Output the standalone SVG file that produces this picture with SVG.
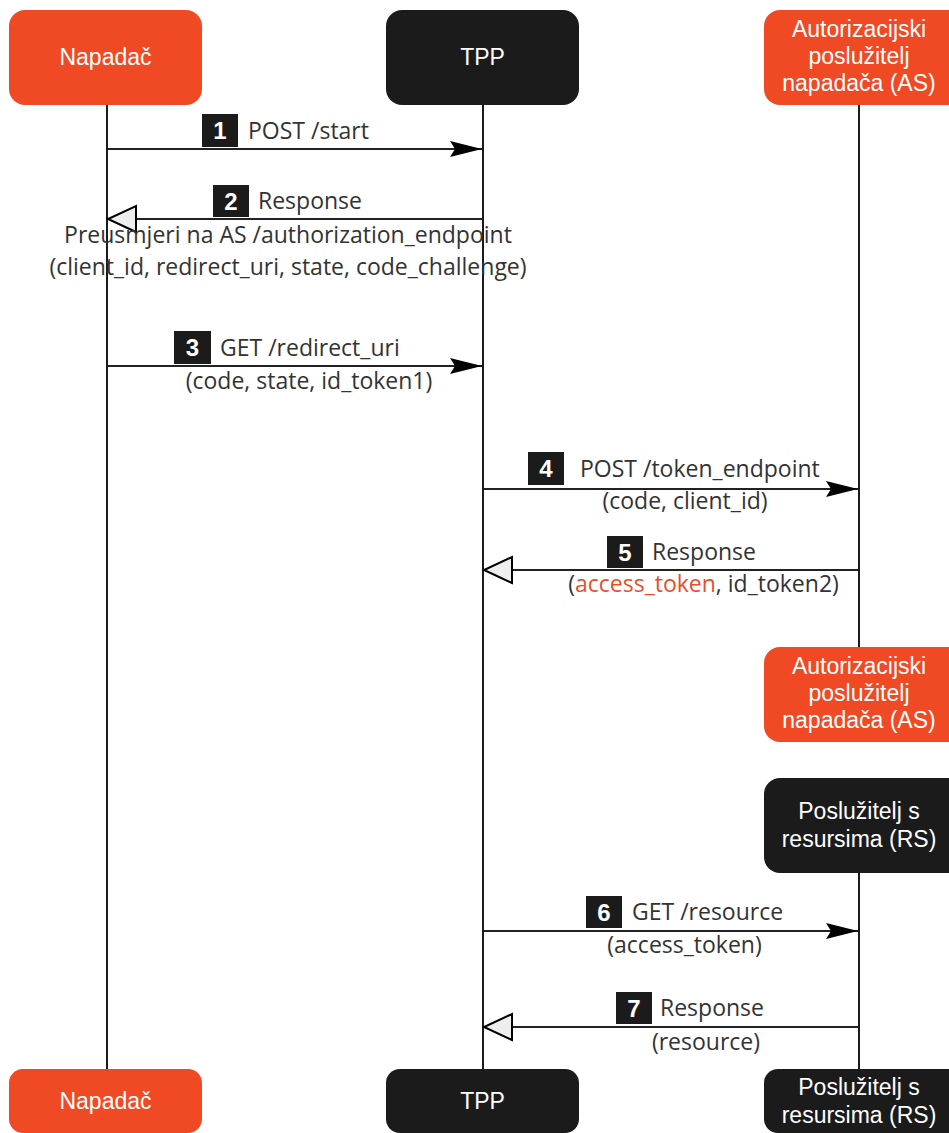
<svg xmlns="http://www.w3.org/2000/svg" width="949" height="1133" viewBox="0 0 949 1133">
<style>
.red{fill:#EF4A24}
.blk{fill:#1b1b1b}
.bt{font-family:"Liberation Sans",Arial,sans-serif;font-size:23px;fill:#ffffff;text-anchor:middle}
.life{stroke:#1b1b1b;stroke-width:2;fill:none}
.msg{stroke:#222;stroke-width:2;fill:none}
.lbl{font-family:"Open Sans","DejaVu Sans",sans-serif;font-size:23px;fill:#333333}
.sub{font-family:"Open Sans","DejaVu Sans",sans-serif;font-size:23px;fill:#333333;text-anchor:middle}
.num{fill:#1b1b1b}
.nt{font-family:"Liberation Sans",Arial,sans-serif;font-size:24px;font-weight:bold;fill:#ffffff;text-anchor:middle}
.hl{fill:#E84E2C}
</style>
<defs>
<marker id="filled" markerWidth="34" markerHeight="18" refX="32" refY="9" orient="auto" markerUnits="userSpaceOnUse">
<path d="M0,1 L32,9 L0,17 L5,9 Z" fill="#000"/>
</marker>
<marker id="open" markerWidth="32" markerHeight="30" refX="29" refY="15" orient="auto" markerUnits="userSpaceOnUse">
<path d="M1,2 L29,15 L1,28 Z" fill="#eeeeee" stroke="#000" stroke-width="2"/>
</marker>
</defs>

<g id="lifelines">
<line class="life" x1="107" y1="105" x2="107" y2="1069"/>
<line class="life" x1="483" y1="105" x2="483" y2="1069"/>
<line class="life" x1="859" y1="105" x2="859" y2="647"/>
<line class="life" x1="859" y1="873" x2="859" y2="1069"/>
</g>

<g id="node-napadac-top">
<rect class="red" x="9" y="10" width="193" height="95" rx="16"/>
<text class="bt" x="105.5" y="65">Napadač</text>
</g>
<g id="node-tpp-top">
<rect class="blk" x="386" y="10" width="193" height="95" rx="16"/>
<text class="bt" x="482.5" y="65">TPP</text>
</g>
<g id="node-as-top">
<rect class="red" x="764" y="10" width="200" height="95" rx="16"/>
<text class="bt" x="859" y="37">Autorizacijski</text>
<text class="bt" x="859" y="64">poslužitelj</text>
<text class="bt" x="859" y="91">napadača (AS)</text>
</g>
<g id="node-as-mid">
<rect class="red" x="764" y="647" width="200" height="95" rx="16"/>
<text class="bt" x="859" y="674">Autorizacijski</text>
<text class="bt" x="859" y="701">poslužitelj</text>
<text class="bt" x="859" y="728">napadača (AS)</text>
</g>
<g id="node-rs-mid">
<rect class="blk" x="764" y="778" width="200" height="95" rx="16"/>
<text class="bt" x="859" y="819">Poslužitelj s</text>
<text class="bt" x="859" y="847">resursima (RS)</text>
</g>
<g id="node-napadac-bottom">
<rect class="red" x="9" y="1069" width="193" height="64" rx="14"/>
<text class="bt" x="105.5" y="1109">Napadač</text>
</g>
<g id="node-tpp-bottom">
<rect class="blk" x="386" y="1069" width="193" height="64" rx="14"/>
<text class="bt" x="482.5" y="1109">TPP</text>
</g>
<g id="node-rs-bottom">
<rect class="blk" x="764" y="1069" width="200" height="64" rx="14"/>
<text class="bt" x="859" y="1095">Poslužitelj s</text>
<text class="bt" x="859" y="1123">resursima (RS)</text>
</g>

<g id="connectors">
<line class="msg" x1="108" y1="149" x2="482" y2="149" marker-end="url(#filled)"/>
<line class="msg" x1="482" y1="219" x2="108" y2="219" marker-end="url(#open)"/>
<line class="msg" x1="108" y1="366" x2="482" y2="366" marker-end="url(#filled)"/>
<line class="msg" x1="484" y1="489" x2="858" y2="489" marker-end="url(#filled)"/>
<line class="msg" x1="858" y1="570" x2="484" y2="570" marker-end="url(#open)"/>
<line class="msg" x1="484" y1="931" x2="858" y2="931" marker-end="url(#filled)"/>
<line class="msg" x1="858" y1="1027" x2="484" y2="1027" marker-end="url(#open)"/>
</g>

<g id="label-1">
<rect class="num" x="202" y="114" width="36" height="33"/>
<text class="nt" x="220" y="139">1</text>
<text class="lbl" x="248" y="139">POST /start</text>
</g>
<g id="label-2">
<rect class="num" x="213" y="185" width="36" height="32"/>
<text class="nt" x="231" y="210">2</text>
<text class="lbl" x="258" y="209">Response</text>
<text class="sub" x="288" y="243">Preusmjeri na AS /authorization_endpoint</text>
<text class="sub" x="288" y="275">(client_id, redirect_uri, state, code_challenge)</text>
</g>
<g id="label-3">
<rect class="num" x="174" y="331" width="37" height="33"/>
<text class="nt" x="192.5" y="356">3</text>
<text class="lbl" x="220" y="356">GET /redirect_uri</text>
<text class="sub" x="309" y="389">(code, state, id_token1)</text>
</g>
<g id="label-4">
<rect class="num" x="528" y="452" width="36" height="33"/>
<text class="nt" x="546" y="477">4</text>
<text class="lbl" x="580" y="477">POST /token_endpoint</text>
<text class="sub" x="685" y="509">(code, client_id)</text>
</g>
<g id="label-5">
<rect class="num" x="607" y="536" width="36" height="32"/>
<text class="nt" x="625" y="561">5</text>
<text class="lbl" x="652" y="560">Response</text>
<text class="sub" x="703.5" y="592">(<tspan class="hl">access_token</tspan>, id_token2)</text>
</g>
<g id="label-6">
<rect class="num" x="586" y="896" width="36" height="32"/>
<text class="nt" x="604" y="921">6</text>
<text class="lbl" x="632" y="920">GET /resource</text>
<text class="sub" x="684.5" y="953">(access_token)</text>
</g>
<g id="label-7">
<rect class="num" x="616" y="992" width="36" height="32"/>
<text class="nt" x="634" y="1017">7</text>
<text class="lbl" x="660" y="1016">Response</text>
<text class="sub" x="706" y="1050">(resource)</text>
</g>
</svg>
